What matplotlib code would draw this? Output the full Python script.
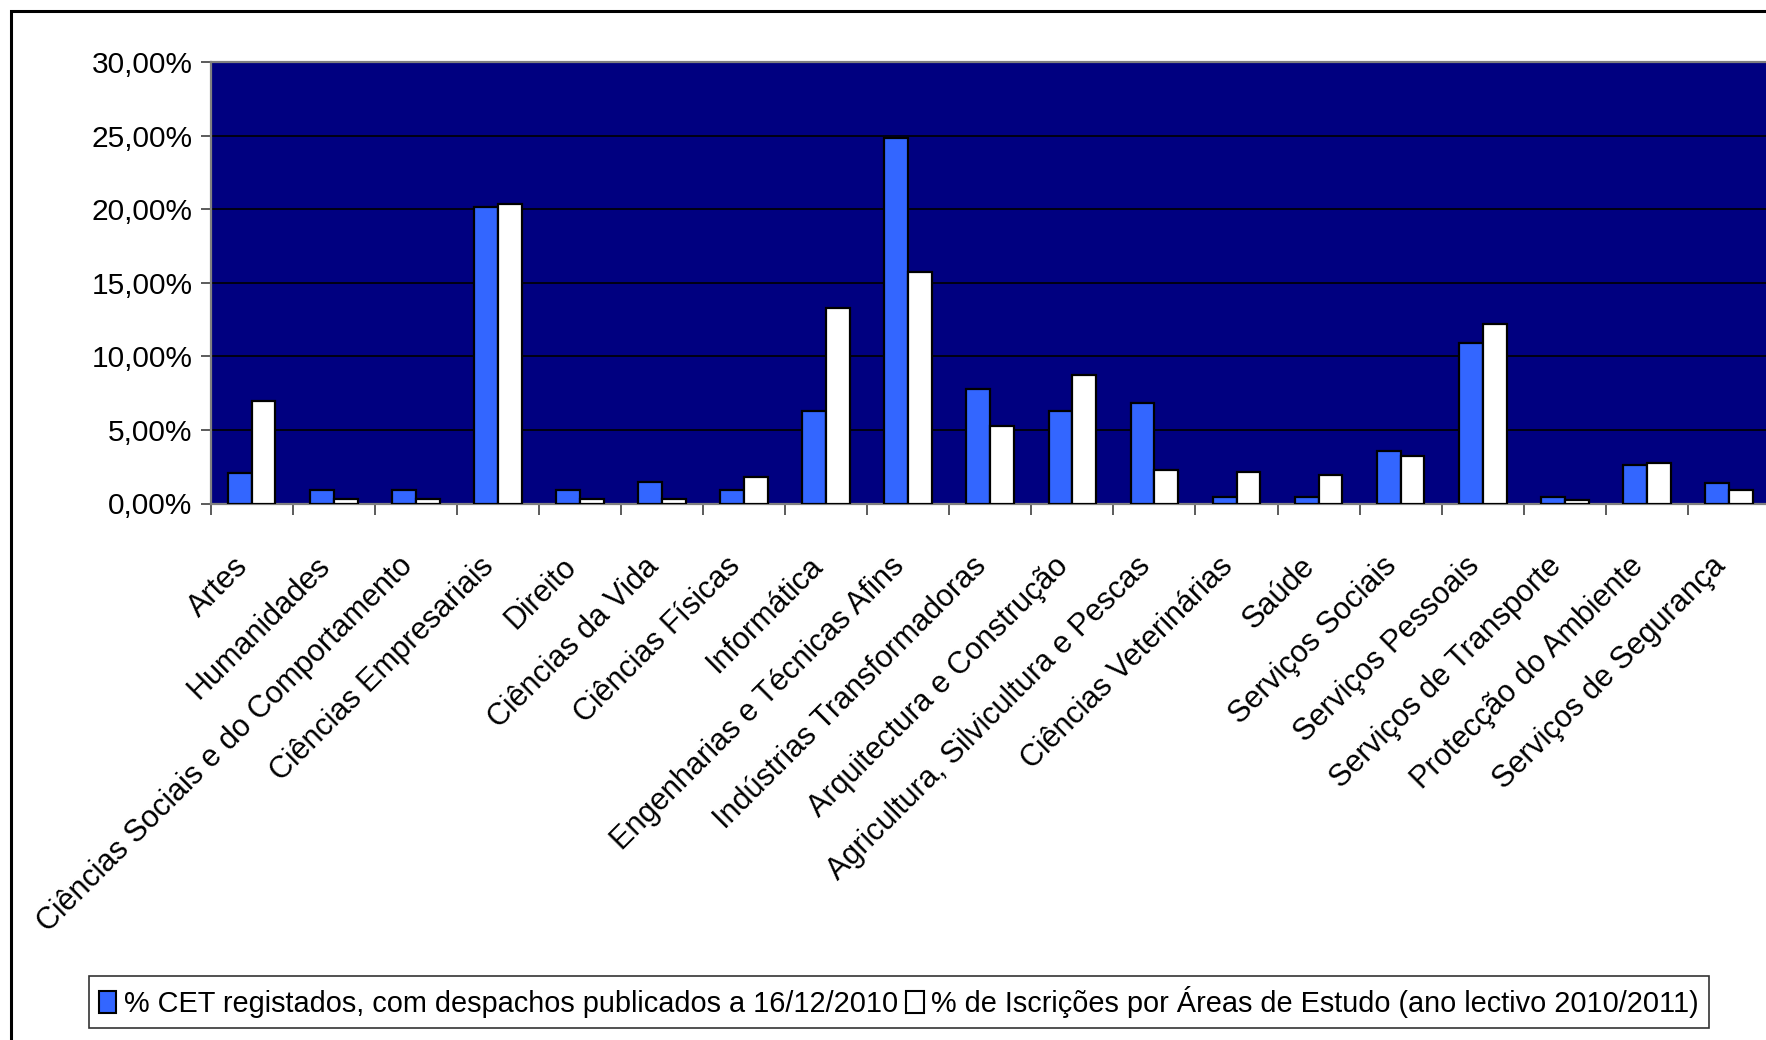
import matplotlib
matplotlib.use("Agg")
import matplotlib.pyplot as plt
import matplotlib.transforms as mtransforms
import numpy as np
from matplotlib.patches import Patch, Rectangle
from matplotlib.ticker import FuncFormatter, FixedLocator

areas = [
    "Artes", "Humanidades", "Ciências Sociais e do Comportamento",
    "Ciências Empresariais", "Direito", "Ciências da Vida", "Ciências Físicas",
    "Informática", "Engenharias e Técnicas Afins", "Indústrias Transformadoras",
    "Arquitectura e Construção", "Agricultura, Silvicultura e Pescas",
    "Ciências Veterinárias", "Saúde", "Serviços Sociais", "Serviços Pessoais",
    "Serviços de Transporte", "Protecção do Ambiente", "Serviços de Segurança",
]
cet_registados = [2.1, 0.95, 0.95, 20.15, 0.95, 1.45, 0.95, 6.3, 24.85, 7.8,
                  6.3, 6.8, 0.42, 0.42, 3.6, 10.9, 0.42, 2.6, 1.42]
inscricoes = [6.95, 0.3, 0.3, 20.35, 0.3, 0.3, 1.8, 13.3, 15.75, 5.27,
              8.75, 2.25, 2.12, 1.95, 3.22, 12.22, 0.25, 2.75, 0.95]

label_cet = "% CET registados, com despachos publicados a 16/12/2010"
label_insc = "% de Iscrições por Áreas de Estudo (ano lectivo 2010/2011)"

plt.rcParams["font.family"] = ["Liberation Sans", "DejaVu Sans"]

W, H = 1766, 1040
fig = plt.figure(figsize=(W / 100, H / 100), dpi=100)

left, right, top, bottom = 210.6, 1770.0, 62.0, 503.5
ax = fig.add_axes([left / W, 1 - bottom / H, (right - left) / W, (bottom - top) / H])
ax.set_facecolor("#000080")

x = np.arange(len(areas))
w = 0.29
ax.bar(x - w / 2, cet_registados, w, color="#3366FF", edgecolor="black", linewidth=1.6, zorder=3)
ax.bar(x + w / 2, inscricoes, w, color="white", edgecolor="black", linewidth=1.6, zorder=3)

ax.set_xlim(-0.5, len(areas) - 0.5)
ax.set_ylim(0, 30)
ax.set_yticks(np.arange(0, 31, 5))
ax.yaxis.set_major_formatter(FuncFormatter(lambda v, _: f"{v:.2f}%".replace(".", ",")))
ax.yaxis.grid(True, color="black", linewidth=1.2, zorder=1)
ax.set_axisbelow(True)

# category labels at centres, tick marks at boundaries
ax.set_xticks(x)
ax.set_xticklabels(areas)
ax.xaxis.set_minor_locator(FixedLocator(np.arange(-0.5, len(areas), 1.0)))
ax.tick_params(axis="x", which="major", length=0, pad=42, labelsize=22)
ax.tick_params(axis="x", which="minor", length=8, width=1.2, color="#404040")
ax.tick_params(axis="y", length=7, width=1.2, color="#404040", pad=6, labelsize=21.5)
shift = mtransforms.ScaledTranslation(-8 / 100, 0, fig.dpi_scale_trans)
for lbl in ax.get_xticklabels():
    lbl.set_rotation(45)
    lbl.set_ha("right")
    lbl.set_va("center")
    lbl.set_rotation_mode("anchor")
    lbl.set_transform(lbl.get_transform() + shift)

for side in ["left", "bottom", "top", "right"]:
    ax.spines[side].set_color("#808080")
    ax.spines[side].set_linewidth(1.6)

handles = [Patch(facecolor="#3366FF", edgecolor="black", linewidth=1.5),
           Patch(facecolor="white", edgecolor="black", linewidth=1.5)]
leg = fig.legend(handles, [label_cet, label_insc], loc="center",
                 bbox_to_anchor=(0.509, 0.0365), ncol=2, fontsize=20.8,
                 frameon=True, fancybox=False, edgecolor="black",
                 handlelength=0.6, handleheight=0.8, handletextpad=0.25,
                 columnspacing=0.3, borderpad=0.35, borderaxespad=0)
leg.get_frame().set_linewidth(1.2)

# outer chart border
fig.patches.append(Rectangle((11 / W, -0.1), 1.2, 1 - 11 / H + 0.1,
                             transform=fig.transFigure, fill=False,
                             edgecolor="black", linewidth=2.2))

fig.savefig("out.png", dpi=100)
